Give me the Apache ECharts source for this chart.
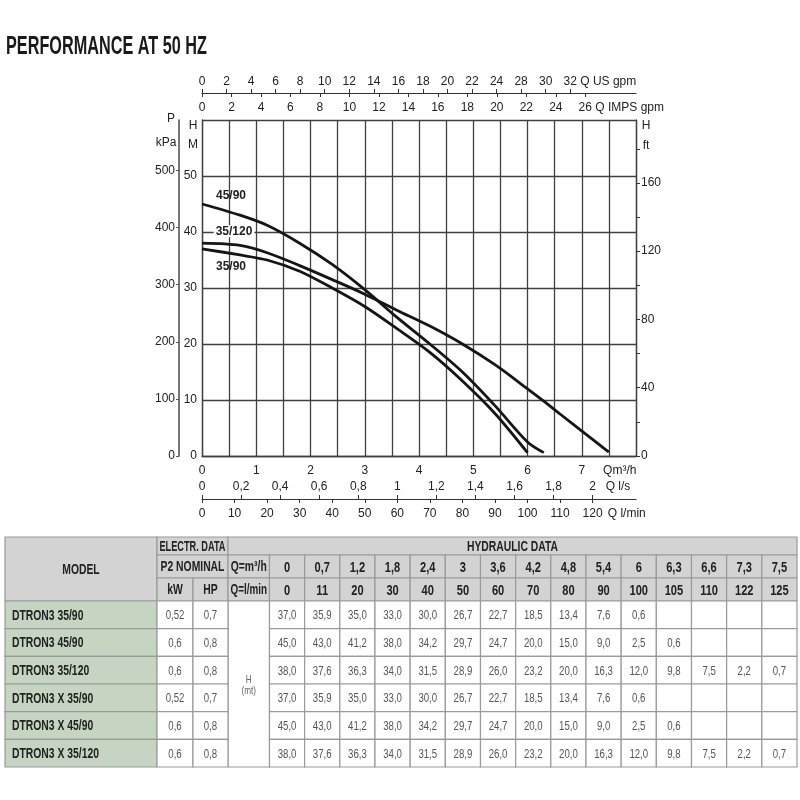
<!DOCTYPE html>
<html>
<head>
<meta charset="utf-8">
<title>Performance at 50 Hz</title>
<script src="https://cdn.jsdelivr.net/npm/echarts@6/dist/echarts.min.js"></script>
<style>
html, body { margin: 0; padding: 0; background: #fff; }
#chart { width: 800px; height: 800px; }
</style>
</head>
<body>
<div id="chart"></div>
<script>
// 流量点 (m3/h 与 l/min)
var Q_M3H = [0, 0.7, 1.2, 1.8, 2.4, 3, 3.6, 4.2, 4.8, 5.4, 6, 6.3, 6.6, 7.3, 7.5];
var Q_LMIN = [0, 11, 20, 30, 40, 50, 60, 70, 80, 90, 100, 105, 110, 122, 125];
// 扬程 H (m)
var H_35_90 = [37.0, 35.9, 35.0, 33.0, 30.0, 26.7, 22.7, 18.5, 13.4, 7.6, 0.6, null, null, null, null];
var H_45_90 = [45.0, 43.0, 41.2, 38.0, 34.2, 29.7, 24.7, 20.0, 15.0, 9.0, 2.5, 0.6, null, null, null];
var H_35_120 = [38.0, 37.6, 36.3, 34.0, 31.5, 28.9, 26.0, 23.2, 20.0, 16.3, 12.0, 9.8, 7.5, 2.2, 0.7];
var CURVE_NAMES = ['35/90', '45/90', '35/120'];
var CURVES = [H_35_90, H_45_90, H_35_120];
// 型号表
var MODELS = ['DTRON3 35/90', 'DTRON3 45/90', 'DTRON3 35/120', 'DTRON3 X 35/90', 'DTRON3 X 45/90', 'DTRON3 X 35/120'];
var MODEL_KW = [0.52, 0.6, 0.6, 0.52, 0.6, 0.6];
var MODEL_HP = [0.7, 0.8, 0.8, 0.7, 0.8, 0.8];
var MODEL_CURVE = [0, 1, 2, 0, 1, 2];
// 刻度标签
var M3H_TICKS = [0, 1, 2, 3, 4, 5, 6, 7];
var LS_TICKS = [0, 0.2, 0.4, 0.6, 0.8, 1, 1.2, 1.4, 1.6, 1.8, 2];
var LMIN_TICKS = [0, 10, 20, 30, 40, 50, 60, 70, 80, 90, 100, 110, 120];
var US_TICKS = [0, 2, 4, 6, 8, 10, 12, 14, 16, 18, 20, 22, 24, 26, 28, 30];
var US_LABELS = ['0', '2', '4', '6', '8', '10', '12', '14', '16', '18', '20', '22', '24', '28', '30', '32'];
var IMPS_TICKS = [0, 2, 4, 6, 8, 10, 12, 14, 16, 18, 20, 22, 24, 26];
var H_TICKS = [0, 10, 20, 30, 40, 50];
var KPA_TICKS = [0, 100, 200, 300, 400, 500];
var FT_TICKS = [0, 20, 40, 60, 80, 100, 120, 140, 160, 180];
var FT_LABELS = [0, 40, 80, 120, 160];

// 样式
var FONT = "'Liberation Sans', Arial, sans-serif";
var GRID_COLOR = '#404040';
var AXIS_COLOR = '#333';
var TEXT_COLOR = '#222';
var NARROW = 0.74;
// 单位换算 (1 m3/h)
var M3H_MAX = 8;
var US_PER_M3H = 4.42;
var IMPS_PER_M3H = 3.68;
var LS_PER_M3H = 1 / 3.6;
var LMIN_PER_M3H = 1000 / 60;
var KPA_PER_M = 9.81;
var FT_PER_M = 3.281;
var H_MAX = 60;

// 表格布局
var COL_W = [152, 36, 35, 41.5];
for (var k = 0; k < 15; k++) COL_W.push(35.17);
var ROW_H = [18, 23, 23, 27.67, 27.67, 27.67, 27.67, 27.67, 27.67];

// 文字宽度测量，用来压缩文字（没有窄体字体）
var measureCtx = document.createElement('canvas').getContext('2d');
function textWidth(text, font) {
	measureCtx.font = font;
	var w = 0;
	String(text).split('\n').forEach(function (line) {
		w = Math.max(w, measureCtx.measureText(line).width);
	});
	return w;
}

function comma(v) {
	return String(v).replace('.', ',');
}

function lookup(values, texts) {
	return function (v) {
		var i = values.indexOf(v);
		return i < 0 ? '' : texts[i];
	};
}

function labelStyle(size) {
	return { fontFamily: FONT, fontSize: size, color: TEXT_COLOR, hideOverlap: false };
}

/**
 * 曲线数据，第一个点带型号标签
 */
var LABEL_OFFSET = [[29, 18], [29, -8], [32, -12]];
function curveData(idx) {
	var h = CURVES[idx];
	var out = [];
	for (var i = 0; i < Q_M3H.length; i++) {
		if (h[i] == null) continue;
		out.push([Q_M3H[i], h[i]]);
	}
	out[0] = {
		value: out[0],
		label: {
			show: true,
			position: 'inside',
			offset: LABEL_OFFSET[idx],
			formatter: CURVE_NAMES[idx],
			fontFamily: FONT,
			fontSize: 12,
			fontWeight: 'bold',
			color: TEXT_COLOR,
			backgroundColor: idx == 2 ? '#fff' : 'transparent',
			padding: [0, 2]
		}
	};
	return out;
}

/**
 * 表格单元格
 */
var cellRects = [];
var cellInfo = [];
var colEdge = [0];
for (var c = 0; c < COL_W.length; c++) colEdge.push(colEdge[c] + COL_W[c]);
var rowEdge = [0];
for (var r = 0; r < ROW_H.length; r++) rowEdge.push(rowEdge[r] + ROW_H[r]);

function addCell(c0, c1, r0, r1, text, kind) {
	cellRects.push([colEdge[c0], rowEdge[r0], colEdge[c1], rowEdge[r1]]);
	cellInfo.push({ text: text, kind: kind });
}

addCell(0, 1, 0, 3, 'MODEL', 'head');
addCell(1, 3, 0, 1, 'ELECTR. DATA', 'head');
addCell(3, 19, 0, 1, 'HYDRAULIC DATA', 'head');
addCell(1, 3, 1, 2, 'P2 NOMINAL', 'head');
addCell(3, 4, 1, 2, 'Q=m³/h', 'head');
addCell(1, 2, 2, 3, 'kW', 'head');
addCell(2, 3, 2, 3, 'HP', 'head');
addCell(3, 4, 2, 3, 'Q=l/min', 'head');
for (var j = 0; j < Q_M3H.length; j++) {
	addCell(4 + j, 5 + j, 1, 2, comma(Q_M3H[j]), 'headVal');
	addCell(4 + j, 5 + j, 2, 3, String(Q_LMIN[j]), 'headVal');
}
addCell(3, 4, 3, 9, 'H\n(mt)', 'unit');
for (var m = 0; m < MODELS.length; m++) {
	addCell(0, 1, 3 + m, 4 + m, MODELS[m], 'model');
	addCell(1, 2, 3 + m, 4 + m, comma(MODEL_KW[m]), 'val');
	addCell(2, 3, 3 + m, 4 + m, comma(MODEL_HP[m]), 'val');
	var h = CURVES[MODEL_CURVE[m]];
	for (var j2 = 0; j2 < h.length; j2++) {
		addCell(4 + j2, 5 + j2, 3 + m, 4 + m, h[j2] == null ? '' : comma(h[j2].toFixed(1)), 'val');
	}
}

var CELL_STYLE = {
	head: { fill: '#d3d3d3', font: 'bold 14px ' + FONT, color: '#222', align: 'center' },
	headVal: { fill: '#d3d3d3', font: 'bold 15px ' + FONT, color: '#222', align: 'center' },
	model: { fill: '#c5d5c1', font: 'bold 14px ' + FONT, color: '#222', align: 'left' },
	val: { fill: '#fff', font: '13px ' + FONT, color: '#555', align: 'center' },
	unit: { fill: '#fff', font: '11px ' + FONT, color: '#666', align: 'center' }
};

function renderCell(params, api) {
	var p0 = api.coord([api.value(0), api.value(1)]);
	var p1 = api.coord([api.value(2), api.value(3)]);
	var info = cellInfo[params.dataIndex];
	var st = CELL_STYLE[info.kind];
	var cw = p1[0] - p0[0];
	var tx = st.align == 'left' ? p0[0] + 7 : (p0[0] + p1[0]) / 2;
	var tw = textWidth(info.text, st.font);
	var sx = tw > 0 ? Math.min(NARROW, (cw - 5) / tw) : NARROW;
	return {
		type: 'group',
		children: [{
			type: 'rect',
			shape: { x: p0[0], y: p0[1], width: cw, height: p1[1] - p0[1] },
			style: { fill: st.fill, stroke: '#9a9a9a', lineWidth: 1.2 }
		}, {
			type: 'text',
			x: tx,
			y: (p0[1] + p1[1]) / 2 + 1,
			scaleX: sx,
			style: {
				text: info.text,
				font: st.font,
				fill: st.color,
				align: st.align,
				verticalAlign: 'middle',
				lineHeight: 11
			}
		}]
	};
}

var chart = echarts.init(document.getElementById('chart'));

var series = [];
for (var s = 0; s < CURVES.length; s++) {
	series.push({
		name: CURVE_NAMES[s],
		type: 'line',
		xAxisIndex: 0,
		yAxisIndex: 0,
		smooth: 0.3,
		symbol: 'circle',
		symbolSize: 0,
		showSymbol: true,
		silent: true,
		z: 5,
		lineStyle: { color: '#151515', width: 2.8 },
		data: curveData(s)
	});
}
series.push({
	type: 'custom',
	xAxisIndex: 5,
	yAxisIndex: 3,
	silent: true,
	renderItem: renderCell,
	data: cellRects
});

var TITLE = 'PERFORMANCE AT 50 HZ';
var TITLE_FONT = 'bold 25px ' + FONT;
// IMPS 最后一个刻度后面接单位名称
var AXIS_FONT = '12px ' + FONT;
var IMPS_UNIT = '26 Q IMPS gpm';
var impsPad = textWidth(IMPS_UNIT, AXIS_FONT) - textWidth('26', AXIS_FONT);
var IMPS_LABELS = IMPS_TICKS.map(String);
IMPS_LABELS[IMPS_LABELS.length - 1] = '{u|' + IMPS_UNIT + '}';

chart.setOption({
	animation: false,
	backgroundColor: '#fff',
	grid: [
		{ left: 202, top: 120, width: 434, height: 336 },
		{ left: 5, top: 537, width: 792, height: 230 }
	],
	xAxis: [{
		// Q m3/h
		gridIndex: 0, type: 'value', position: 'bottom', min: 0, max: M3H_MAX, interval: 0.5,
		axisLine: { show: true, onZero: false, lineStyle: { color: GRID_COLOR, width: 1.3 } },
		axisTick: { show: false },
		splitLine: { show: true, lineStyle: { color: GRID_COLOR, width: 1.3 } },
		axisLabel: Object.assign(labelStyle(12), {
			margin: 9,
			customValues: M3H_TICKS.concat([7.7]),
			formatter: lookup(M3H_TICKS.concat([7.7]), M3H_TICKS.map(String).concat(['Qm³/h']))
		})
	}, {
		// Q l/s
		gridIndex: 0, type: 'value', position: 'bottom', offset: 43, min: 0, max: M3H_MAX * LS_PER_M3H,
		axisLine: { show: true, onZero: false, lineStyle: { color: AXIS_COLOR, width: 1.2 } },
		axisTick: { show: true, inside: true, length: 4, customValues: LS_TICKS, lineStyle: { color: AXIS_COLOR } },
		splitLine: { show: false },
		axisLabel: Object.assign(labelStyle(12), {
			inside: true,
			margin: 6,
			customValues: LS_TICKS.concat([2.13]),
			formatter: lookup(LS_TICKS.concat([2.13]), LS_TICKS.map(comma).concat(['Q l/s']))
		})
	}, {
		// Q l/min
		gridIndex: 0, type: 'value', position: 'bottom', offset: 43, min: 0, max: M3H_MAX * LMIN_PER_M3H,
		axisLine: { show: false, onZero: false },
		axisTick: { show: true, length: 4, customValues: LMIN_TICKS, lineStyle: { color: AXIS_COLOR } },
		splitLine: { show: false },
		axisLabel: Object.assign(labelStyle(12), {
			margin: 9,
			customValues: LMIN_TICKS.concat([130.5]),
			formatter: lookup(LMIN_TICKS.concat([130.5]), LMIN_TICKS.map(String).concat(['Q l/min']))
		})
	}, {
		// Q US gpm
		gridIndex: 0, type: 'value', position: 'top', offset: 27, min: 0, max: M3H_MAX * US_PER_M3H,
		axisLine: { show: true, onZero: false, lineStyle: { color: AXIS_COLOR, width: 1.2 } },
		axisTick: { show: true, length: 4, customValues: US_TICKS, lineStyle: { color: AXIS_COLOR } },
		splitLine: { show: false },
		axisLabel: Object.assign(labelStyle(12), {
			margin: 5,
			customValues: US_TICKS.concat([33.1]),
			formatter: lookup(US_TICKS.concat([33.1]), US_LABELS.concat(['Q US gpm']))
		})
	}, {
		// Q IMPS gpm
		gridIndex: 0, type: 'value', position: 'top', offset: 27, min: 0, max: M3H_MAX * IMPS_PER_M3H,
		axisLine: { show: false, onZero: false },
		axisTick: { show: true, inside: true, length: 4, customValues: IMPS_TICKS, lineStyle: { color: AXIS_COLOR } },
		splitLine: { show: false },
		axisLabel: Object.assign(labelStyle(12), {
			inside: true,
			margin: 9,
			customValues: IMPS_TICKS,
			formatter: lookup(IMPS_TICKS, IMPS_LABELS),
			rich: {
				u: { fontFamily: FONT, fontSize: 12, color: TEXT_COLOR, padding: [0, 0, 0, impsPad] }
			}
		})
	}, {
		gridIndex: 1, type: 'value', min: 0, max: colEdge[colEdge.length - 1], show: false
	}],
	yAxis: [{
		// H m
		gridIndex: 0, type: 'value', position: 'left', min: 0, max: H_MAX, interval: 10,
		axisLine: { show: true, onZero: false, lineStyle: { color: GRID_COLOR, width: 1.3 } },
		axisTick: { show: false },
		splitLine: { show: true, lineStyle: { color: GRID_COLOR, width: 1.3 } },
		axisLabel: Object.assign(labelStyle(12), {
			margin: 5,
			customValues: H_TICKS,
			formatter: lookup(H_TICKS, H_TICKS.map(String))
		})
	}, {
		// P kPa
		gridIndex: 0, type: 'value', position: 'left', offset: 23, min: 0, max: H_MAX * KPA_PER_M,
		axisLine: { show: true, onZero: false, lineStyle: { color: '#555', width: 1.6 } },
		axisTick: { show: true, length: 3, customValues: KPA_TICKS, lineStyle: { color: '#555' } },
		splitLine: { show: false },
		axisLabel: Object.assign(labelStyle(12), {
			margin: 4,
			customValues: KPA_TICKS,
			formatter: lookup(KPA_TICKS, KPA_TICKS.map(String))
		})
	}, {
		// H ft
		gridIndex: 0, type: 'value', position: 'right', min: 0, max: H_MAX * FT_PER_M,
		axisLine: { show: true, onZero: false, lineStyle: { color: GRID_COLOR, width: 1.3 } },
		axisTick: { show: true, length: 4, customValues: FT_TICKS, lineStyle: { color: AXIS_COLOR } },
		splitLine: { show: false },
		axisLabel: Object.assign(labelStyle(12), {
			margin: 5,
			customValues: FT_LABELS,
			formatter: lookup(FT_LABELS, FT_LABELS.map(String))
		})
	}, {
		gridIndex: 1, type: 'value', inverse: true, min: 0, max: rowEdge[rowEdge.length - 1], show: false
	}],
	graphic: [
		{ type: 'text', x: 6, y: 47, scaleX: 201 / textWidth(TITLE, TITLE_FONT), style: { text: TITLE, font: TITLE_FONT, fill: '#1a1a1a', verticalAlign: 'middle' } },
		{ type: 'text', x: 171, y: 119, style: { text: 'P', font: '12px ' + FONT, fill: TEXT_COLOR, align: 'center', verticalAlign: 'middle' } },
		{ type: 'text', x: 166, y: 143, style: { text: 'kPa', font: '12px ' + FONT, fill: TEXT_COLOR, align: 'center', verticalAlign: 'middle' } },
		{ type: 'text', x: 193, y: 126, style: { text: 'H', font: '12px ' + FONT, fill: TEXT_COLOR, align: 'center', verticalAlign: 'middle' } },
		{ type: 'text', x: 193, y: 145, style: { text: 'M', font: '12px ' + FONT, fill: TEXT_COLOR, align: 'center', verticalAlign: 'middle' } },
		{ type: 'text', x: 646, y: 126, style: { text: 'H', font: '12px ' + FONT, fill: TEXT_COLOR, align: 'center', verticalAlign: 'middle' } },
		{ type: 'text', x: 646, y: 146, style: { text: 'ft', font: '12px ' + FONT, fill: TEXT_COLOR, align: 'center', verticalAlign: 'middle' } }
	],
	series: series
});
</script>
</body>
</html>
